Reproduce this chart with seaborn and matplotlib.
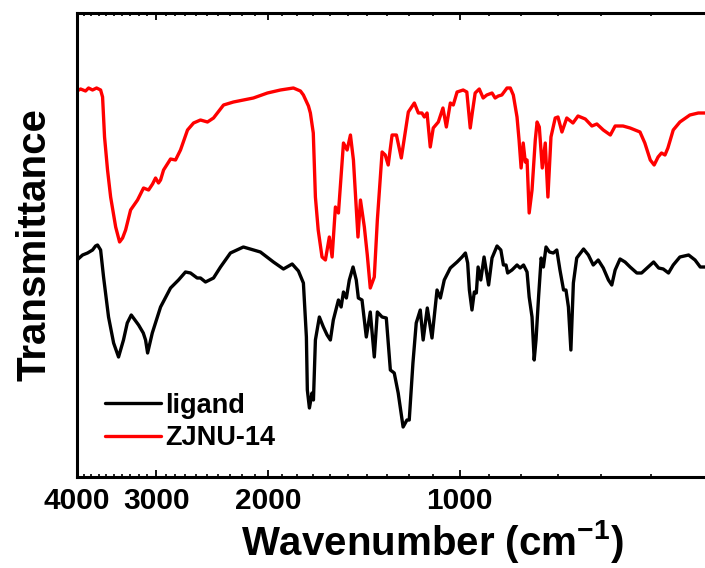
import matplotlib
matplotlib.use("Agg")
import matplotlib.pyplot as plt
import matplotlib.ticker as mticker
import numpy as np
import pandas as pd
import seaborn as sns

# ---- data (wavenumber in cm^-1, transmittance in arbitrary offset units) ----
ligand_wn = [4000, 3920, 3850, 3781, 3740, 3713, 3672, 3633, 3568, 3503, 3441, 3380, 3334, 3286,
             3200, 3146, 3120, 3097, 3045, 2955, 2850, 2769, 2700, 2651, 2588, 2557, 2511, 2439,
             2378, 2294, 2189, 2058, 1963, 1893, 1834, 1793, 1761, 1742, 1736, 1723, 1707, 1698,
             1686, 1662, 1638, 1616, 1597, 1580, 1551, 1536, 1523, 1507, 1491, 1471, 1454, 1443,
             1424, 1402, 1382, 1362, 1347, 1324, 1304, 1285, 1267, 1249, 1227, 1210, 1200, 1184,
             1170, 1153, 1141, 1124, 1105, 1085, 1072, 1057, 1034, 1009, 991, 979, 971, 965, 956,
             948, 941, 935, 926, 915, 900, 889, 873, 861, 853, 845, 840, 827, 812, 803, 793, 783,
             777, 769, 763, 758, 751, 744, 738, 731, 722, 712, 703, 695, 686, 680, 674, 668, 662,
             654, 638, 627, 616, 605, 594, 583, 576, 569, 559, 549, 539, 526, 517, 507, 495, 486,
             478, 469, 461, 450, 436, 426, 418, 411, 400]
ligand_t = [217, 222, 224, 227, 231, 232, 227, 200, 160, 134, 120, 137, 154, 162,
            152, 144, 137, 124, 144, 170, 189, 197, 205, 204, 199, 199, 195, 199,
            210, 224, 230, 225, 215, 208, 213, 206, 194, 140, 87, 69, 84, 77,
            137, 160, 150, 142, 137, 157, 177, 170, 185, 179, 197, 210, 197, 179,
            177, 140, 165, 120, 165, 160, 159, 107, 104, 84, 50, 57, 57, 114,
            154, 167, 137, 169, 139, 187, 179, 197, 209, 215, 220, 224, 214, 187, 167,
            185, 184, 210, 197, 220, 192, 219, 231, 227, 212, 212, 204, 207, 212, 209, 212, 205,
            180, 160, 117, 137, 180, 219, 210, 230, 225, 224, 227, 207, 187, 187, 170, 127, 194,
            219, 228, 222, 212, 217, 209, 197, 192, 207, 218, 215, 210, 204, 204, 209, 215, 209,
            208, 204, 212, 220, 222, 217, 210, 210, 210]

zjnu_wn = [4000, 3948, 3878, 3836, 3781, 3726, 3672, 3646, 3620, 3581, 3541, 3477, 3428, 3391,
           3354, 3294, 3212, 3143, 3086, 3042, 3009, 2977, 2955, 2923, 2850, 2799, 2749, 2680,
           2622, 2557, 2493, 2439, 2352, 2269, 2111, 2006, 1914, 1826, 1780, 1761, 1729, 1717,
           1699, 1686, 1669, 1646, 1626, 1603, 1587, 1568, 1551, 1523, 1503, 1485, 1469, 1445,
           1432, 1412, 1397, 1382, 1362, 1347, 1324, 1309, 1295, 1277, 1257, 1235, 1204, 1178,
           1161, 1146, 1136, 1125, 1112, 1100, 1080, 1062, 1049, 1034, 1023, 1009, 987, 974,
           969, 962, 955, 945, 931, 918, 906, 889, 879, 869, 858, 842, 832, 823, 812, 806, 800,
           794, 788, 783, 777, 769, 760, 755, 749, 741, 733, 726, 718, 707, 700, 690, 678, 663,
           651, 634, 619, 608, 594, 579, 569, 553, 539, 520, 511, 501, 494, 487, 481, 475, 470,
           461, 450, 434, 421, 411, 400]
zjnu_t = [386, 388, 386, 389, 387, 389, 387, 380, 340, 307, 280, 250, 235, 239,
          247, 267, 277, 289, 287, 293, 299, 294, 297, 307, 318, 317, 327, 347,
          354, 357, 355, 359, 372, 375, 379, 384, 387, 389, 386, 382, 371, 364,
          344, 280, 247, 220, 217, 240, 220, 270, 264, 334, 327, 342, 317, 240,
          277, 250, 222, 189, 200, 257, 325, 322, 312, 342, 342, 319, 365, 374,
          364, 364, 360, 364, 330, 349, 355, 369, 350, 374, 372, 385, 387, 385,
          370, 349, 364, 384, 388, 379, 382, 384, 379, 381, 382, 389, 389, 382, 360, 337, 309,
          334, 315, 317, 264, 287, 337, 355, 350, 309, 334, 280, 340, 359, 360, 345, 359, 354,
          361, 358, 351, 353, 347, 342, 351, 351, 349, 345, 334, 317, 312, 320, 324, 322, 329,
          347, 355, 362, 364, 364, 365]

series_names = ["ligand", "ZJNU-14"]
series_colors = ["#000000", "#ff0000"]
major_ticks = [4000, 3000, 2000, 1000]
minor_ticks = list(range(400, 4001, 100))

df = pd.concat([
    pd.DataFrame({"wn": ligand_wn, "t": ligand_t, "sample": series_names[0]}),
    pd.DataFrame({"wn": zjnu_wn, "t": zjnu_t, "sample": series_names[1]}),
])

sns.set_style("ticks")
plt.rcParams["font.family"] = ["Liberation Sans", "DejaVu Sans"]
plt.rcParams["font.weight"] = "bold"
plt.rcParams["text.color"] = "black"
plt.rcParams["axes.labelcolor"] = "black"
plt.rcParams["xtick.color"] = "black"
plt.rcParams["ytick.color"] = "black"
plt.rcParams["mathtext.fontset"] = "custom"
plt.rcParams["mathtext.rm"] = "Liberation Sans:bold"
plt.rcParams["mathtext.it"] = "Liberation Sans:bold"
plt.rcParams["mathtext.bf"] = "Liberation Sans:bold"

W, H = 705, 568
fig = plt.figure(figsize=(W / 100, H / 100), dpi=100)
ax = fig.add_axes([77 / W, (H - 477) / H, (712.4 - 77) / W, (477 - 13) / H])

for name, col in zip(series_names, series_colors):
    sub = df[df["sample"] == name]
    sns.lineplot(data=sub, x="wn", y="t", color=col, lw=2.4, ax=ax, label=name,
                 estimator=None, sort=True)

ax.set_xscale("log")
ax.set_xlim(4000, 400)
ax.set_ylim(0, 464)
ax.xaxis.set_major_locator(mticker.FixedLocator(major_ticks))
ax.xaxis.set_major_formatter(mticker.FixedFormatter([str(v) for v in major_ticks]))
ax.xaxis.set_minor_locator(mticker.FixedLocator(minor_ticks))
ax.xaxis.set_minor_formatter(mticker.NullFormatter())
ax.set_yticks([])

for s in ax.spines.values():
    s.set_linewidth(2.2)
    s.set_color("black")

ax.tick_params(axis="x", which="major", direction="in", length=5, width=1.3,
               top=True, labelsize=21.5, pad=7, colors="black")
ax.tick_params(axis="x", which="minor", direction="in", length=2.5, width=1.2, top=True,
               colors="black")
for lbl in ax.get_xticklabels():
    lbl.set_fontweight("bold")

ax.set_xlabel(r"Wavenumber (cm$^{-1}$)", fontsize=29, fontweight="bold", va="top",
              color="black")
ax.xaxis.set_label_coords((432 - 77) / (712.4 - 77), -0.088)
ax.set_ylabel("Transmittance", fontsize=29, fontweight="bold", labelpad=17, color="black")

leg = ax.legend(loc="upper left", bbox_to_anchor=(0.027, 0.205), frameon=False,
                prop={"size": 19.5, "weight": "bold"}, handlelength=2.05,
                handletextpad=0.18, labelspacing=0.25, borderaxespad=0)
for t in leg.get_texts():
    t.set_color("black")

fig.savefig("out.png", dpi=100)
